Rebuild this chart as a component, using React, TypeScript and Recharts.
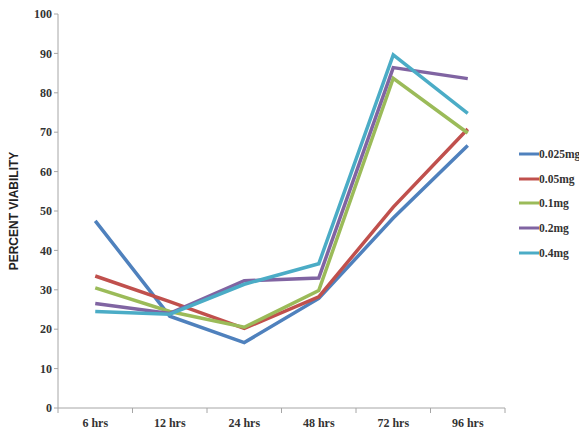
import { LineChart, Line, XAxis, YAxis, Legend } from 'recharts';

const times = ['6 hrs', '12 hrs', '24 hrs', '48 hrs', '72 hrs', '96 hrs'];
const dose025 = [47.5, 23.3, 16.6, 27.8, 48.2, 66.6];
const dose05 = [33.5, 27.0, 20.2, 28.2, 51.0, 70.8];
const dose1 = [30.5, 24.5, 20.5, 29.8, 83.7, 69.8];
const dose2 = [26.5, 24.0, 32.3, 33.0, 86.4, 83.6];
const dose4 = [24.5, 23.8, 31.4, 36.6, 89.6, 74.8];
const seriesNames = ['0.025mg', '0.05mg', '0.1mg', '0.2mg', '0.4mg'];
const seriesColors = ['#4F81BD', '#C0504D', '#9BBB59', '#8064A2', '#4BACC6'];
const yTicks = [0, 10, 20, 30, 40, 50, 60, 70, 80, 90, 100];

const allSeries = [dose025, dose05, dose1, dose2, dose4];
const data = times.map((t, i) => {
  const row: Record<string, string | number> = { time: t };
  seriesNames.forEach((n, s) => {
    row[n] = allSeries[s][i];
  });
  return row;
});

const W = 587;
const H = 437;
const margin = { top: 14, right: 82, bottom: 0, left: 0 };
const yAxisWidth = 58;
const xAxisHeight = 29;
const band = (W - margin.left - margin.right - yAxisWidth) / times.length;
const axisGray = '#A6A6A6';
const serif = '"Liberation Serif", "Times New Roman", serif';
const plotBottom = H - margin.bottom - xAxisHeight;

const XTick = (props: any) => {
  const { x, payload, index } = props;
  const axisY = plotBottom;
  return (
    <g>
      <line x1={x - band / 2} x2={x - band / 2} y1={axisY} y2={axisY + 5} stroke={axisGray} />
      {index === times.length - 1 && (
        <line x1={x + band / 2} x2={x + band / 2} y1={axisY} y2={axisY + 5} stroke={axisGray} />
      )}
      <text x={x} y={axisY + 15} dominantBaseline="central" textAnchor="middle" fontFamily={serif} fontWeight="bold" fontSize={12} fill="#333">
        {payload.value}
      </text>
    </g>
  );
};

const YLabel = (props: any) => {
  const { viewBox } = props;
  const cx = viewBox.x + 14;
  const cy = viewBox.y + viewBox.height / 2;
  return (
    <text
      x={cx}
      y={cy}
      transform={`rotate(-90, ${cx}, ${cy})`}
      textAnchor="middle"
      dominantBaseline="central"
      fontFamily='"Liberation Sans", Arial, sans-serif'
      fontWeight="bold"
      fontSize={12}
      fill="#222"
    >
      PERCENT VIABILITY
    </text>
  );
};

const LegendContent = (props: any) => {
  const { payload } = props;
  return (
    <div>
      {payload.map((p: any) => (
        <div key={p.value} style={{ display: 'flex', alignItems: 'center', height: 24.6, whiteSpace: 'nowrap' }}>
          <svg width={20} height={6}>
            <line x1={0} x2={20} y1={3} y2={3} stroke={p.color} strokeWidth={3} />
          </svg>
          <span style={{ fontFamily: serif, fontWeight: 'bold', fontSize: 11.5, color: '#333' }}>{p.value}</span>
        </div>
      ))}
    </div>
  );
};

export default function App() {
  return (
    <div style={{ margin: -8, width: W, height: H, background: '#fff', overflow: 'hidden', position: 'relative' }}>
      <LineChart width={W} height={H} data={data} margin={margin}>
        <XAxis
          dataKey="time"
          scale="band"
          height={xAxisHeight}
          axisLine={{ stroke: axisGray }}
          tickLine={false}
          tick={<XTick />}
          interval={0}
        />
        <YAxis
          width={yAxisWidth}
          domain={[0, 100]}
          ticks={yTicks}
          interval={0}
          axisLine={{ stroke: axisGray }}
          tickLine={{ stroke: axisGray }}
          tickSize={4}
          tick={{ fontFamily: serif, fontWeight: 'bold', fontSize: 12, fill: '#333' }}
          label={<YLabel />}
        />
        <Legend
          layout="vertical"
          align="center"
          verticalAlign="middle"
          content={<LegendContent />}
          wrapperStyle={{ left: 519, top: 142, width: 66, height: 'auto' }}
        />
        {seriesNames.map((n, i) => (
          <Line
            key={n}
            dataKey={n}
            stroke={seriesColors[i]}
            strokeWidth={3.5}
            dot={false}
            activeDot={false}
            isAnimationActive={false}
          />
        ))}
      </LineChart>
    </div>
  );
}
